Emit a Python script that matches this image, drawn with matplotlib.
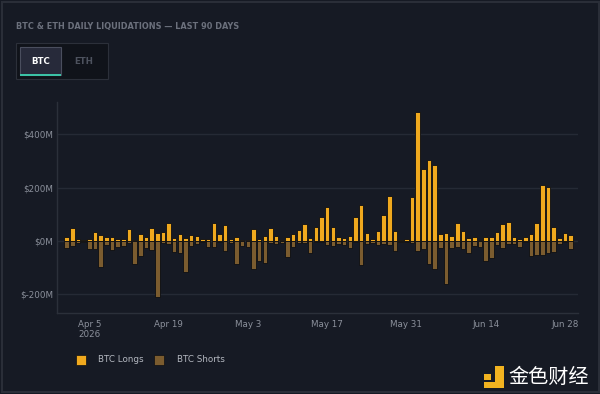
import matplotlib
matplotlib.use("Agg")
import matplotlib.pyplot as plt
from matplotlib.patches import Rectangle
import pandas as pd

# daily liquidations, $M, Apr 1 .. Jun 29 2026
days = pd.date_range("2026-04-01", periods=90, freq="D")
longs = [14, 47, 8, 4, 8, 32, 22, 15, 14, 8,
         6, 45, 5, 26, 15, 49, 29, 34, 68, 12,
         26, 12, 24, 18, 6, 8, 68, 26, 60, 6,
         15, 4, 4, 44, 8, 20, 47, 19, 4, 15,
         26, 40, 62, 12, 54, 91, 126, 53, 15, 12,
         19, 90, 135, 31, 6, 38, 96, 168, 38, 4,
         8, 163, 484, 268, 302, 285, 28, 30, 19, 68,
         38, 10, 15, 4, 15, 15, 34, 65, 70, 15,
         8, 15, 28, 68, 211, 203, 51, 12, 30, 24]
shorts = [25, 17, 6, 4, 30, 30, 98, 14, 32, 21,
          19, 9, 88, 58, 26, 32, 209, 6, 10, 42,
          44, 115, 19, 11, 2, 21, 21, 4, 36, 6,
          85, 19, 21, 106, 75, 81, 9, 12, 9, 59,
          21, 9, 9, 44, 5, 5, 16, 19, 11, 14,
          26, 5, 89, 11, 9, 14, 11, 16, 38, 2,
          2, 9, 38, 31, 86, 104, 28, 160, 25, 21,
          30, 46, 18, 24, 74, 64, 15, 26, 12, 12,
          22, 3, 55, 51, 51, 46, 41, 10, 3, 29]
tick_dates = pd.to_datetime(["2026-04-05", "2026-04-19", "2026-05-03", "2026-05-17",
                             "2026-05-31", "2026-06-14", "2026-06-28"])
tick_labels = ["Apr 5\n2026", "Apr 19", "May 3", "May 17", "May 31", "Jun 14", "Jun 28"]
y_ticks = [-200, 0, 200, 400]
y_labels = ["$-200M", "$0M", "$200M", "$400M"]

BG = "#161a24"
LONG = "#f0a91e"
SHORT = "#7b5c2f"
W, H = 600, 394


def fx(x):
    return x / W


def fy(y):
    return 1 - y / H


fig = plt.figure(figsize=(6, 3.94), dpi=100, facecolor=BG)

# card border
fig.patches.append(Rectangle((fx(1.5), fy(392)), fx(597), 390 / H, transform=fig.transFigure,
                             fill=False, ec="#2a2e38", lw=1.5))

fig.text(fx(16), fy(27), "BTC & ETH DAILY LIQUIDATIONS \u2014 LAST 90 DAYS",
         color="#6b707c", fontsize=5.9, fontweight="bold", va="center", ha="left",
         family="DejaVu Sans")

# BTC / ETH toggle
fig.patches.append(Rectangle((fx(16), fy(79)), 92 / W, 36 / H, transform=fig.transFigure,
                             fc="#10131a", ec="#2c303a", lw=0.8))
fig.patches.append(Rectangle((fx(20), fy(75)), 41 / W, 28 / H, transform=fig.transFigure,
                             fc="#272a3a", ec="#4a4e5e", lw=0.8))
fig.patches.append(Rectangle((fx(20), fy(75.5)), 41 / W, 1.5 / H, transform=fig.transFigure,
                             fc="#3cc2a6", ec="none"))
fig.text(fx(40.5), fy(61), "BTC", color="white", fontsize=6.2, fontweight="bold",
         ha="center", va="center")
fig.text(fx(84), fy(61), "ETH", color="#4d525e", fontsize=6.2, fontweight="bold",
         ha="center", va="center")

ax = fig.add_axes([fx(57), fy(313), (578 - 57) / W, (313 - 102) / H])
ax.set_facecolor(BG)
ax.bar(days, longs, width=0.8, color=LONG, edgecolor="#0c0e13", linewidth=0.6, zorder=3)
ax.bar(days, [-s for s in shorts], width=0.8, color=SHORT, edgecolor="#0c0e13",
       linewidth=0.6, zorder=3)

ax.set_ylim(-270, 521)
ax.set_xlim(days[0] - pd.Timedelta(days=1.7), days[-1] + pd.Timedelta(days=1.3))
ax.set_yticks(y_ticks)
ax.set_yticklabels(y_labels)
ax.set_xticks(tick_dates)
ax.set_xticklabels(tick_labels)
ax.grid(axis="y", color="#252a35", lw=1.0, zorder=0)
ax.tick_params(length=0, colors="#8b909b", labelsize=6.3)
ax.tick_params(axis="y", pad=3)
ax.tick_params(axis="x", pad=5)
for s in ("top", "right"):
    ax.spines[s].set_visible(False)
for s in ("left", "bottom"):
    ax.spines[s].set_color("#2b303a")
    ax.spines[s].set_linewidth(1.0)

# legend
fig.patches.append(Rectangle((fx(76), fy(365)), 10 / W, 10 / H, transform=fig.transFigure,
                             fc=LONG, ec="#0c0e13", lw=0.5))
fig.text(fx(98), fy(359.5), "BTC Longs", color="#b4b8c0", fontsize=6.3, va="center")
fig.patches.append(Rectangle((fx(154), fy(365)), 10 / W, 10 / H, transform=fig.transFigure,
                             fc=SHORT, ec="#0c0e13", lw=0.5))
fig.text(fx(177), fy(359.5), "BTC Shorts", color="#b4b8c0", fontsize=6.3, va="center")

# watermark
GOLD = "#f2b320"
fig.patches.append(Rectangle((fx(484), fy(379.5)), 7 / W, 6 / H, transform=fig.transFigure,
                             fc=GOLD, ec="none"))
fig.patches.append(Rectangle((fx(495), fy(387.5)), 8.5 / W, 21.5 / H, transform=fig.transFigure,
                             fc=GOLD, ec="none"))
fig.patches.append(Rectangle((fx(484), fy(387.5)), 19.5 / W, 5.5 / H, transform=fig.transFigure,
                             fc=GOLD, ec="none"))
fig.text(fx(549), fy(377), "金色财经", color="white", fontsize=14.5,
         family=["Noto Sans CJK SC", "DejaVu Sans"], fontweight="medium",
         ha="center", va="center")

fig.savefig("out.png", dpi=100, facecolor=BG)
